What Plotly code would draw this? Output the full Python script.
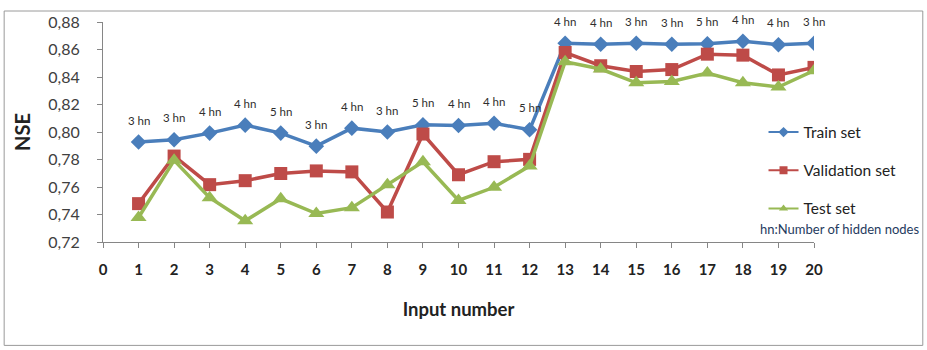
import plotly.graph_objects as go

inputs = list(range(1, 21))
train = [0.7927, 0.7944, 0.7992, 0.8050, 0.7992, 0.7897, 0.8028, 0.8000, 0.8052, 0.8047,
         0.8064, 0.8016, 0.8645, 0.8638, 0.8645, 0.8638, 0.8642, 0.8660, 0.8635, 0.8645]
validation = [0.7479, 0.7825, 0.7617, 0.7646, 0.7698, 0.7717, 0.7710, 0.7418, 0.7985, 0.7689,
              0.7784, 0.7801, 0.8578, 0.8482, 0.8440, 0.8454, 0.8566, 0.8559, 0.8415, 0.8470]
test = [0.7378, 0.7794, 0.7522, 0.7354, 0.7514, 0.7407, 0.7450, 0.7617, 0.7784, 0.7502,
        0.7598, 0.7753, 0.8511, 0.8458, 0.8358, 0.8368, 0.8429, 0.8358, 0.8327, 0.8446]
hidden_nodes = ["3 hn", "3 hn", "4 hn", "4 hn", "5 hn", "3 hn", "4 hn", "3 hn", "5 hn", "4 hn",
                "4 hn", "5 hn", "4 hn", "4 hn", "3 hn", "3 hn", "5 hn", "4 hn", "4 hn", "3 hn"]
series_names = ["Train set", "Validation set", "Test set"]
series_colors = ["#4A7EBB", "#BE4B48", "#98B954"]
series_symbols = ["diamond", "square", "triangle-up"]
x_ticks = list(range(0, 21))
y_ticks = [0.72, 0.74, 0.76, 0.78, 0.80, 0.82, 0.84, 0.86, 0.88]

FONT = "Lato"
fig = go.Figure()
marker_sizes = [12, 13, 14]
for vals, name, col, sym, ms in zip([train, validation, test], series_names, series_colors,
                                    series_symbols, marker_sizes):
    fig.add_trace(go.Scatter(x=inputs, y=vals, name=name, mode="lines+markers",
                             line=dict(color=col, width=3.5),
                             marker=dict(symbol=sym, size=ms, color=col),
                             showlegend=False))
# legend entries (thin lines, small markers as in the original legend)
for i, (name, col, sym) in enumerate(zip(series_names, series_colors, series_symbols)):
    fig.add_trace(go.Scatter(x=[None], y=[None], name=name, mode="lines+markers",
                             line=dict(color=col, width=2),
                             marker=dict(symbol=sym, size=8, color=col),
                             legendgroup=str(i), showlegend=True))

for xi, yi, t in zip(inputs, train, hidden_nodes):
    fig.add_annotation(x=xi, y=yi, text=t, showarrow=False, yshift=22,
                       font=dict(family=FONT, size=11.5, color="#2E2E2E"))

fig.add_annotation(xref="paper", yref="paper", x=1.150, y=0.06, xanchor="right",
                   yanchor="middle", text="hn:Number of hidden nodes", showarrow=False,
                   font=dict(family=FONT, size=13, color="#1F3B5E"))

# outer frame
fig.add_shape(type="rect", xref="paper", yref="paper", x0=-0.139, x1=1.153, y0=-0.47, y1=1.05,
              line=dict(color="#9A9A9A", width=1))

fig.update_layout(
    width=927, height=350, margin=dict(l=103, r=113, t=19, b=108),
    paper_bgcolor="white", plot_bgcolor="white", separators=", ",
    font=dict(family=FONT, color="#404040"),
    showlegend=True,
    legend=dict(x=0.929, y=0.575, xanchor="left", yanchor="top", tracegroupgap=15,
                font=dict(family=FONT, size=15.5, color="#222222"), bgcolor="rgba(0,0,0,0)"),
    xaxis=dict(range=[0, 20], tickvals=x_ticks, ticks="outside", ticklen=5, tickcolor="#868686",
               showline=True, linecolor="#868686", linewidth=1, showgrid=False, zeroline=False,
               ticklabelstandoff=9,
               tickfont=dict(family=FONT, size=15, color="#222222", weight="bold"),
               title=dict(text="Input number", font=dict(family=FONT, size=18.5, color="#222222", weight="bold"),
                          standoff=26)),
    yaxis=dict(range=[0.72, 0.88], tickvals=y_ticks, tickformat=".2f", ticks="outside", ticklen=5,
               tickcolor="#868686", showline=True, linecolor="#868686", linewidth=1, showgrid=False,
               zeroline=False, ticklabelstandoff=14,
               tickfont=dict(family=FONT, size=16, color="#404040"),
               title=dict(text="NSE", font=dict(family=FONT, size=20, color="#222222", weight="bold"),
                          standoff=12)),
)
fig.write_html("out.html")
